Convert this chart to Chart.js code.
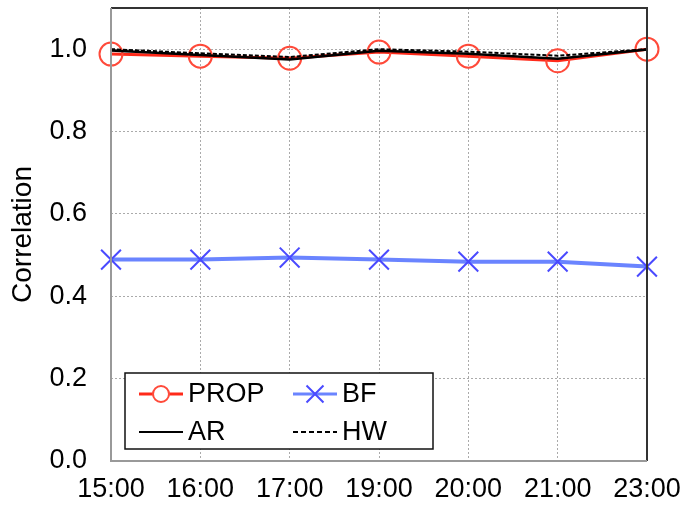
<!DOCTYPE html>
<html>
<head>
<meta charset="utf-8">
<script src="https://cdn.jsdelivr.net/npm/chart.js@4"></script>
<style>
  html, body { margin: 0; padding: 0; background: #fff; }
  #wrap { width: 686px; height: 510px; }
</style>
</head>
<body>
<div id="wrap"><canvas id="corrChart" width="686" height="510"></canvas></div>
<script>
var hours = ["15:00", "16:00", "17:00", "19:00", "20:00", "21:00", "23:00"];
var propValues = [0.988, 0.983, 0.978, 0.993, 0.983, 0.972, 1.0];
var bfValues = [0.489, 0.489, 0.494, 0.489, 0.484, 0.484, 0.472];
var arValues = [0.997, 0.986, 0.975, 0.996, 0.989, 0.977, 0.999];
var hwValues = [1.0, 0.99, 0.981, 1.0, 0.994, 0.984, 1.0];
var yTicks = [0, 0.2, 0.4, 0.6, 0.8, 1.0];

var FONT = "'Liberation Sans', Arial, Helvetica, sans-serif";

// frame round the plot + legend box inside it
var framePlugin = {
    id: "frame",
    afterDatasetsDraw: function (chart) {
        var c = chart.ctx, a = chart.chartArea;
        c.save();
        c.lineWidth = 2;
        c.strokeStyle = "#333";
        c.beginPath();
        c.moveTo(a.left, a.top); c.lineTo(a.right, a.top); c.lineTo(a.right, a.bottom);
        c.stroke();
        c.strokeStyle = "#999";
        c.beginPath();
        c.moveTo(a.left, a.top); c.lineTo(a.left, a.bottom); c.lineTo(a.right, a.bottom);
        c.stroke();

        // legend
        var bx = a.left + 14, by = a.bottom - 88, bw = 308, bh = 76;
        c.fillStyle = "#fff";
        c.fillRect(bx, by, bw, bh);
        c.lineWidth = 1.5;
        c.strokeStyle = "#111";
        c.strokeRect(bx, by, bw, bh);

        var slots = [
            { ds: 0, x: bx + 14, y: by + 21 },
            { ds: 1, x: bx + 168, y: by + 21 },
            { ds: 2, x: bx + 14, y: by + 59 },
            { ds: 3, x: bx + 168, y: by + 59 }
        ];
        c.font = "27px " + FONT;
        c.textBaseline = "middle";
        slots.forEach(function (s) {
            var d = chart.data.datasets[s.ds];
            c.save();
            c.strokeStyle = d.borderColor;
            c.lineWidth = d.legendWidth || d.borderWidth;
            c.setLineDash(d.legendDash || []);
            c.beginPath();
            c.moveTo(s.x, s.y); c.lineTo(s.x + 44, s.y);
            c.stroke();
            c.restore();
            if (d.pointRadius > 0) {
                c.save();
                c.strokeStyle = d.pointBorderColor;
                c.lineWidth = d.pointBorderWidth;
                Chart.helpers.drawPoint(c, {
                    pointStyle: d.pointStyle,
                    radius: d.legendPointRadius,
                    borderWidth: d.pointBorderWidth
                }, s.x + 22, s.y);
                c.restore();
            }
            c.fillStyle = "#000";
            c.fillText(d.label, s.x + 49, s.y + 1);
        });
        c.restore();
    }
};

new Chart(document.getElementById("corrChart"), {
    type: "line",
    data: {
        labels: hours,
        datasets: [
            {
                label: "PROP",
                data: propValues,
                borderColor: "#ff2a1a",
                borderWidth: 3,
                pointStyle: "circle",
                pointRadius: 11.5,
                legendPointRadius: 8,
                pointBorderColor: "#ff4a3a",
                pointBackgroundColor: "rgba(0,0,0,0)",
                pointBorderWidth: 2,
                order: 3
            },
            {
                label: "BF",
                data: bfValues,
                borderColor: "rgba(80, 110, 255, 0.85)",
                borderWidth: 4,
                legendWidth: 3,
                pointStyle: "crossRot",
                pointRadius: 14,
                legendPointRadius: 12,
                pointBorderColor: "#4a4aff",
                pointBorderWidth: 2,
                order: 4
            },
            {
                label: "AR",
                data: arValues,
                borderColor: "#000",
                borderWidth: 2.5,
                legendWidth: 2,
                pointRadius: 0,
                order: 2
            },
            {
                label: "HW",
                data: hwValues,
                borderColor: "#000",
                borderWidth: 2,
                borderDash: [4, 2],
                legendDash: [5, 3],
                pointRadius: 0,
                order: 1
            }
        ]
    },
    options: {
        responsive: false,
        animation: false,
        layout: { autoPadding: false, padding: { top: 8, right: 39, bottom: 0, left: 0 } },
        plugins: {
            legend: { display: false },
            tooltip: { enabled: false }
        },
        scales: {
            x: {
                type: "category",
                offset: false,
                border: { display: false, dash: [2, 2] },
                grid: { color: "#aaa", lineWidth: 1, drawTicks: false },
                ticks: { color: "#000", font: { family: FONT, size: 27 }, padding: 12, maxRotation: 0, autoSkip: false },
                afterFit: function (scale) {
                    scale.height = 49;
                    scale.paddingLeft = 0;
                    scale.paddingRight = 0;
                }
            },
            y: {
                min: 0,
                max: 1.1,
                border: { display: false, dash: [2, 2] },
                grid: { color: "#aaa", lineWidth: 1, drawTicks: false },
                afterBuildTicks: function (scale) {
                    scale.ticks = yTicks.map(function (v) { return { value: v }; });
                },
                ticks: {
                    color: "#000",
                    font: { family: FONT, size: 27 },
                    padding: 24,
                    callback: function (v) { return v.toFixed(1); }
                },
                title: {
                    display: true,
                    text: "Correlation",
                    color: "#000",
                    font: { family: FONT, size: 28 },
                    padding: { top: 6, bottom: 0 }
                },
                afterFit: function (scale) {
                    scale.width = 111;
                    scale.paddingTop = 0;
                    scale.paddingBottom = 0;
                }
            }
        }
    },
    plugins: [framePlugin]
});
</script>
</body>
</html>
